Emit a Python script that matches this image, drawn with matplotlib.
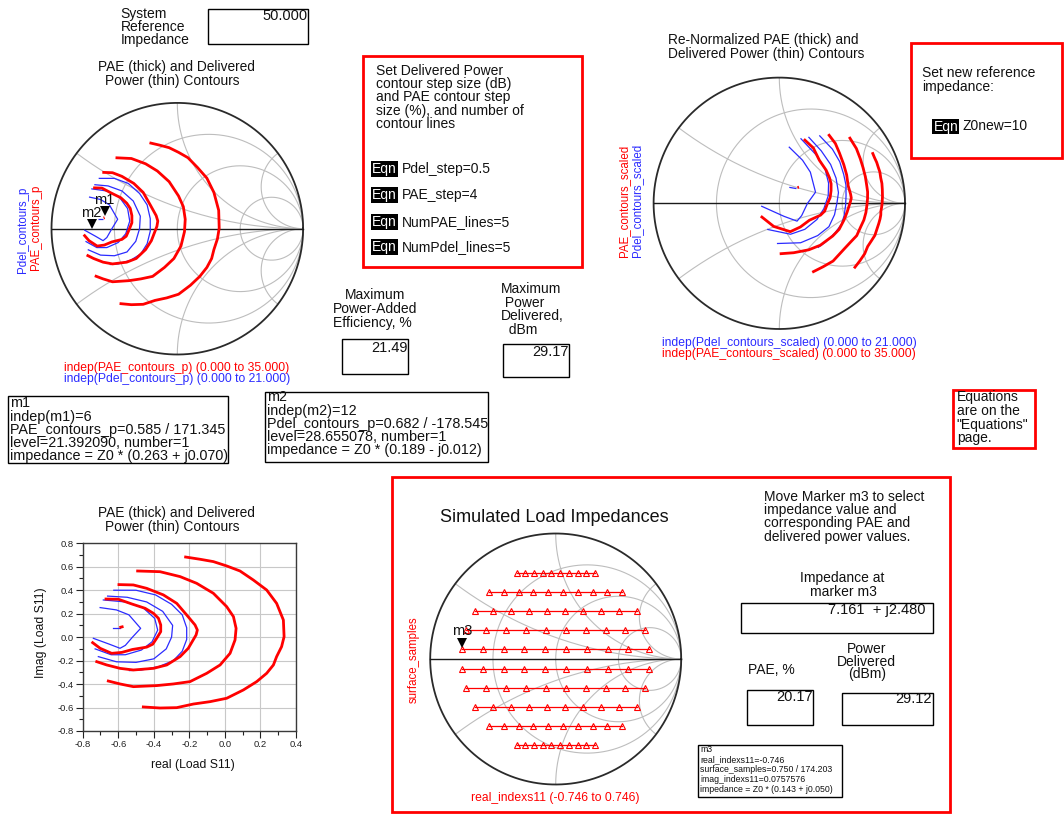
import numpy as np
import matplotlib
matplotlib.use("Agg")
import matplotlib.pyplot as plt
from matplotlib.patches import Rectangle
from matplotlib.ticker import FuncFormatter

plt.rcParams['font.family'] = ['Liberation Sans', 'DejaVu Sans']

# ---------------------------------------------------------------- data
Z0 = 50.0          # system reference impedance
Z0_NEW = 10.0      # re-normalization impedance

max_pae = "21.49"
max_pdel = "29.17"
m3_impedance = "7.161  + j2.480"
m3_pae = "20.17"
m3_pdel = "29.12"

# PAE contours (load reflection coefficient, re / im), inner to outer
pae_1 = np.array([(-0.744, -0.047), (-0.702, -0.095), (-0.637, -0.138), (-0.580, -0.130),
                  (-0.520, -0.105), (-0.440, -0.085), (-0.406, -0.060), (-0.384, -0.010),
                  (-0.361, 0.047), (-0.361, 0.104), (-0.374, 0.161), (-0.402, 0.203),
                  (-0.449, 0.246), (-0.524, 0.283), (-0.599, 0.323), (-0.669, 0.325)])
pae_2 = np.array([(-0.721, -0.209), (-0.665, -0.237), (-0.590, -0.266), (-0.515, -0.280),
                  (-0.402, -0.266), (-0.327, -0.237), (-0.252, -0.166), (-0.206, -0.095),
                  (-0.162, 0.019), (-0.155, 0.061), (-0.168, 0.104), (-0.215, 0.189),
                  (-0.271, 0.288), (-0.346, 0.360), (-0.440, 0.416), (-0.515, 0.445),
                  (-0.596, 0.448)])
pae_3 = np.array([(-0.656, -0.374), (-0.590, -0.399), (-0.515, -0.422), (-0.384, -0.413),
                  (-0.290, -0.399), (-0.196, -0.379), (-0.102, -0.308), (-0.027, -0.237),
                  (0.029, -0.138), (0.057, -0.024), (0.063, 0.075), (0.048, 0.175),
                  (0.010, 0.260), (-0.065, 0.374), (-0.159, 0.459), (-0.252, 0.516),
                  (-0.365, 0.558), (-0.491, 0.564)])
pae_4 = np.array([(-0.459, -0.595), (-0.365, -0.604), (-0.271, -0.601), (-0.177, -0.570),
                  (-0.084, -0.550), (0.010, -0.521), (0.104, -0.450), (0.179, -0.379),
                  (0.235, -0.308), (0.273, -0.237), (0.291, -0.166), (0.319, -0.081),
                  (0.333, 0.004), (0.329, 0.146), (0.291, 0.288), (0.235, 0.402),
                  (0.160, 0.487), (0.085, 0.564), (0.010, 0.607), (-0.065, 0.644),
                  (-0.140, 0.664), (-0.221, 0.683)])
pae_peak = np.array([(-0.586, 0.085), (-0.578, 0.088)])

# Delivered-power contours, inner to outer
pdel_1 = np.array([(-0.740, -0.010), (-0.650, -0.060), (-0.590, -0.095), (-0.560, -0.070),
                   (-0.520, 0.000), (-0.474, 0.075), (-0.540, 0.190), (-0.610, 0.232),
                   (-0.702, 0.252)])
pdel_2 = np.array([(-0.730, -0.100), (-0.640, -0.150), (-0.560, -0.150), (-0.470, -0.110),
                   (-0.410, -0.040), (-0.378, 0.060), (-0.395, 0.160), (-0.460, 0.250),
                   (-0.560, 0.300), (-0.684, 0.317)])
pdel_3 = np.array([(-0.712, -0.166), (-0.610, -0.210), (-0.500, -0.215), (-0.400, -0.185),
                   (-0.330, -0.100), (-0.300, 0.000), (-0.294, 0.100), (-0.350, 0.220),
                   (-0.440, 0.300), (-0.550, 0.340), (-0.660, 0.350)])
pdel_4 = np.array([(-0.537, -0.285), (-0.470, -0.280), (-0.370, -0.250), (-0.290, -0.200),
                   (-0.240, -0.120), (-0.215, -0.020), (-0.215, 0.080), (-0.240, 0.190),
                   (-0.300, 0.280), (-0.390, 0.360), (-0.500, 0.400), (-0.625, 0.400)])
pdel_peak = np.array([(-0.627, 0.078), (-0.590, 0.078)])

pae_contours = [pae_1, pae_2, pae_3, pae_4, pae_peak]
pdel_contours = [pdel_1, pdel_2, pdel_3, pdel_4, pdel_peak]

# Marker positions (reflection coefficient)
m1_gamma = (-0.578, 0.088)
m2_gamma = (-0.682, -0.017)

# Simulated load samples: one row per imaginary index
sample_imag = [0.6818, 0.5303, 0.3788, 0.2273, 0.0758,
               -0.0758, -0.2273, -0.3788, -0.5303, -0.6818]
row_a = [-0.312, -0.243, -0.174, -0.104, -0.035, 0.035, 0.104, 0.174, 0.243, 0.312]
row_b = [-0.530, -0.412, -0.295, -0.177, -0.059, 0.059, 0.177, 0.295, 0.412, 0.530]
row_c = [-0.647, -0.503, -0.360, -0.216, -0.072, 0.072, 0.216, 0.360, 0.503, 0.647]
row_d = [-0.715, -0.556, -0.397, -0.238, -0.079, 0.079, 0.238, 0.397, 0.556, 0.715]
row_e = [-0.746, -0.580, -0.415, -0.249, -0.083, 0.083, 0.249, 0.415, 0.580, 0.746]
sample_real = [row_a, row_b, row_c, row_d, row_e, row_e, row_d, row_c, row_b, row_a]
m3_row, m3_col = 4, 0

# ---------------------------------------------------------------- style
W, H = 1064, 816
RED = '#ff0000'
BLUE = '#2b2bff'
INK = '#111111'
GRID = '#bdbdbd'
FS = 10.0        # body text
FS_VAL = 10.5    # values in readout boxes
FS_MK = 10.4     # marker readouts
FS_TTL = 9.9     # plot titles
FS_IND = 8.7     # indep(...) captions
FS_YL = 8.3      # rotated trace names

fig = plt.figure(figsize=(W / 100, H / 100), dpi=100)
bg = fig.add_axes([0, 0, 1, 1])
bg.set_xlim(0, W)
bg.set_ylim(H, 0)
bg.axis('off')


def text(x, y, s, size=FS, color=INK, ha='left', va='center', rot=0, **kw):
    return bg.text(x, y, s, fontsize=size, color=color, ha=ha, va=va,
                   rotation=rot, **kw)


def lines(x, y0, dy, rows, size=FS, color=INK, ha='left'):
    for i, s in enumerate(rows):
        text(x, y0 + i * dy, s, size=size, color=color, ha=ha)


def box(x0, y0, x1, y1, color='k', lw=1.0):
    bg.add_patch(Rectangle((x0, y0), x1 - x0, y1 - y0, fill=False,
                           edgecolor=color, lw=lw))


def eqn(x, y, label, w=27.6, h=16):
    bg.add_patch(Rectangle((x, y - h / 2), w, h, facecolor='black',
                           edgecolor='black', lw=0))
    text(x + w / 2, y, 'Eqn', color='white', ha='center')
    text(x + w + 3.5, y, label)


def renorm(g):
    z = Z0 * (1 + g) / (1 - g)
    return (z - Z0_NEW) / (z + Z0_NEW)


def smith_axes(cx, cy, r, pad=1.05):
    ax = fig.add_axes([(cx - r * pad) / W, 1 - (cy + r * pad) / H,
                       2 * r * pad / W, 2 * r * pad / H])
    ax.set_xlim(-pad, pad)
    ax.set_ylim(-pad, pad)
    ax.axis('off')
    t = np.linspace(0, 2 * np.pi, 500)
    for rr in (1 / 3, 1, 3):
        c, rad = rr / (1 + rr), 1 / (1 + rr)
        ax.plot(c + rad * np.cos(t), rad * np.sin(t), color=GRID, lw=0.8)
    rs = np.concatenate([[0], np.logspace(-3, 4, 600)])
    for xx in (1 / 3, 1, 3):
        for s in (1, -1):
            g = (rs + 1j * s * xx - 1) / (rs + 1j * s * xx + 1)
            ax.plot(g.real, g.imag, color=GRID, lw=0.8)
    ax.plot(np.cos(t), np.sin(t), color='#2a2a2a', lw=1.3)
    ax.plot([-1, 1], [0, 0], color='#1a1a1a', lw=1.0)
    return ax


def draw_contours(ax, transform=None):
    for c in pdel_contours:
        g = c[:, 0] + 1j * c[:, 1]
        if transform is not None:
            g = transform(g)
        ax.plot(g.real, g.imag, color=BLUE, lw=0.9, solid_capstyle='butt')
    for c in pae_contours:
        g = c[:, 0] + 1j * c[:, 1]
        if transform is not None:
            g = transform(g)
        ax.plot(g.real, g.imag, color=RED, lw=2.0, solid_capstyle='butt')


def marker(ax, g, name, r_px):
    ax.plot(g[0], g[1] + 6.5 / r_px, marker='v', color='k', ms=7.5, mew=0)
    ax.text(g[0], g[1] + 18 / r_px, name, fontsize=10.5, color=INK,
            ha='center', va='center')


# ---------------------------------------------------------------- top-left
lines(120.7, 14, 13.2, ['System', 'Reference', 'Impedance'])
box(207.7, 9, 308.3, 44.3)
text(307.5, 16, f'{Z0:.3f}', size=FS_VAL, ha='right')

text(176, 66.7, 'PAE (thick) and Delivered', size=FS_TTL, ha='center')
text(172, 80.7, 'Power (thin) Contours', size=FS_TTL, ha='center')

ax1 = smith_axes(177.3, 228.7, 125.8)
draw_contours(ax1)
marker(ax1, m1_gamma, 'm1', 125.8)
marker(ax1, m2_gamma, 'm2', 125.8)

text(23.3, 230, 'Pdel_contours_p', size=FS_YL, color=BLUE, ha='center', rot=90)
text(36, 227, 'PAE_contours_p', size=FS_YL, color=RED, ha='center', rot=90)
text(176.7, 368.3, 'indep(PAE_contours_p) (0.000 to 35.000)', size=FS_IND,
     color=RED, ha='center')
text(176.7, 379.3, 'indep(Pdel_contours_p) (0.000 to 21.000)', size=FS_IND,
     color=BLUE, ha='center')

# ---------------------------------------------------------------- settings box
box(363.3, 56, 581.7, 266.7, color=RED, lw=2)
lines(376, 70.7, 13.3, ['Set Delivered Power', 'contour step size (dB)',
                        'and PAE contour step', 'size (%), and number of',
                        'contour lines'])
eqn(370.7, 169.3, 'Pdel_step=0.5')
eqn(370.7, 195.0, 'PAE_step=4')
eqn(370.7, 221.7, 'NumPAE_lines=5')
eqn(370.7, 246.7, 'NumPdel_lines=5')

# ---------------------------------------------------------------- maxima
text(375.5, 295, 'Maximum', ha='center')
text(375.5, 309.3, 'Power-Added', ha='center')
text(372, 323.3, 'Efficiency, %', ha='center')
box(342.3, 339.3, 408.3, 374)
text(407.5, 347.5, max_pae, size=FS_VAL, ha='right')

lines(501, 289.3, 13.6, ['Maximum', ' Power', 'Delivered,', '  dBm'])
box(503.3, 344, 569.3, 377.3)
text(568.5, 351.5, max_pdel, size=FS_VAL, ha='right')

# ---------------------------------------------------------------- top-right
text(668, 40, 'Re-Normalized PAE (thick) and', size=FS_TTL)
text(668, 54, 'Delivered Power (thin) Contours', size=FS_TTL)
ax2 = smith_axes(779.3, 203.3, 125.7)
draw_contours(ax2, renorm)
text(624, 200.7, 'PAE_contours_scaled', size=FS_YL, color=RED, ha='center', rot=90)
text(637.3, 200, 'Pdel_contours_scaled', size=FS_YL, color=BLUE, ha='center', rot=90)
clip = Rectangle((0, 0), 916, H, transform=bg.transData)
t1 = text(661.7, 342.7, 'indep(Pdel_contours_scaled) (0.000 to 21.000)',
          size=FS_IND, color=BLUE)
t2 = text(661.7, 354, 'indep(PAE_contours_scaled) (0.000 to 35.000)',
          size=FS_IND, color=RED)
for t in (t1, t2):
    t.set_clip_path(clip)

box(910.7, 43.3, 1062, 158.3, color=RED, lw=2)
lines(921.7, 72.7, 14, ['Set new reference', 'impedance:'])
eqn(932.3, 126.5, f'Z0new={Z0_NEW:.0f}', w=27, h=14.5)

box(953.3, 390, 1035, 448.3, color=RED, lw=2)
lines(956.7, 396.7, 13.9, ['Equations', 'are on the', '"Equations"', 'page.'])

# ---------------------------------------------------------------- marker readouts
box(8.3, 396, 227.7, 463)
lines(10, 403.3, 13.2, ['m1', 'indep(m1)=6', 'PAE_contours_p=0.585 / 171.345',
                        'level=21.392090, number=1',
                        'impedance = Z0 * (0.263 + j0.070)'], size=FS_MK)
box(265, 391.7, 488.3, 462)
lines(267, 397.3, 13.2, ['m2', 'indep(m2)=12', 'Pdel_contours_p=0.682 / -178.545',
                         'level=28.655078, number=1',
                         'impedance = Z0 * (0.189 - j0.012)'], size=FS_MK)

# ---------------------------------------------------------------- bottom-left
text(176, 513.3, 'PAE (thick) and Delivered', size=FS_TTL, ha='center')
text(172, 526.5, 'Power (thin) Contours', size=FS_TTL, ha='center')
ax3 = fig.add_axes([82.7 / W, 1 - 731 / H, (296 - 82.7) / W, (731 - 543.3) / H])
ax3.set_xlim(-0.8, 0.4)
ax3.set_ylim(-0.8, 0.8)
ax3.set_xticks(np.arange(-0.8, 0.41, 0.2))
ax3.set_yticks(np.arange(-0.8, 0.81, 0.2))
ax3.set_xticks(np.arange(-0.8, 0.41, 0.1), minor=True)
ax3.set_yticks(np.arange(-0.8, 0.81, 0.1), minor=True)
tick_fmt = FuncFormatter(lambda v, _: f'{0.0 if abs(v) < 1e-9 else v:.1f}')
ax3.xaxis.set_major_formatter(tick_fmt)
ax3.yaxis.set_major_formatter(tick_fmt)
ax3.tick_params(which='major', direction='out', length=5, width=0.8,
                labelsize=6.8, colors='#222222', pad=1.5)
ax3.tick_params(which='minor', direction='out', length=3, width=0.8,
                colors='#222222')
ax3.grid(True, which='major', color='#c8c8c8', lw=0.8)
ax3.set_axisbelow(True)
for s in ax3.spines.values():
    s.set_color('#3a3a3a')
    s.set_linewidth(1.0)
for c in pdel_contours:
    ax3.plot(c[:, 0], c[:, 1], color=BLUE, lw=0.9)
for c in pae_contours:
    ax3.plot(c[:, 0], c[:, 1], color=RED, lw=2.0)
text(40.7, 633, 'Imag (Load S11)', size=8.8, ha='center', rot=90)
text(193.3, 765, 'real (Load S11)', size=8.8, ha='center')

# ---------------------------------------------------------------- simulated loads
box(392, 477, 950, 812, color=RED, lw=2)
text(554, 517.3, 'Simulated Load Impedances', size=13, ha='center')
ax4 = smith_axes(555.7, 659, 125.5)
for yi, xs in zip(sample_imag, sample_real):
    ax4.plot(xs, [yi] * len(xs), color=RED, lw=0.9, marker='^', ms=3.8,
             mfc='none', mec=RED, mew=0.8)
marker(ax4, (sample_real[m3_row][m3_col], sample_imag[m3_row]), 'm3', 125.5)
text(413.3, 660, 'surface_samples', size=FS_YL, color=RED, ha='center', rot=90)
text(555, 798.3, 'real_indexs11 (-0.746 to 0.746)', size=FS_IND, color=RED,
     ha='center')

lines(764.3, 496.7, 13.3, ['Move Marker m3 to select', 'impedance value and',
                           'corresponding PAE and', 'delivered power values.'])
text(841.7, 578.3, 'Impedance at', ha='center')
text(843, 592.3, 'marker m3', ha='center')
box(740.7, 602.7, 932.7, 633.3)
text(926, 610, m3_impedance, size=FS_VAL, ha='right')
text(748.3, 670, 'PAE, %')
box(747.3, 690, 813.3, 725)
text(813, 697.3, m3_pae, size=FS_VAL, ha='right')
text(866.7, 649.3, 'Power', ha='center')
text(866.7, 661.7, 'Delivered', ha='center')
text(866.7, 674, '(dBm)', ha='center')
box(841.7, 692.7, 932.7, 725)
text(932, 699, m3_pdel, size=FS_VAL, ha='right')

box(698, 745, 842, 797)
lines(700, 750, 10, ['m3', 'real_indexs11=-0.746', 'surface_samples=0.750 / 174.203',
                     'imag_indexs11=0.0757576',
                     'impedance = Z0 * (0.143 + j0.050)'], size=6.3)

fig.savefig('out.png', dpi=100)
